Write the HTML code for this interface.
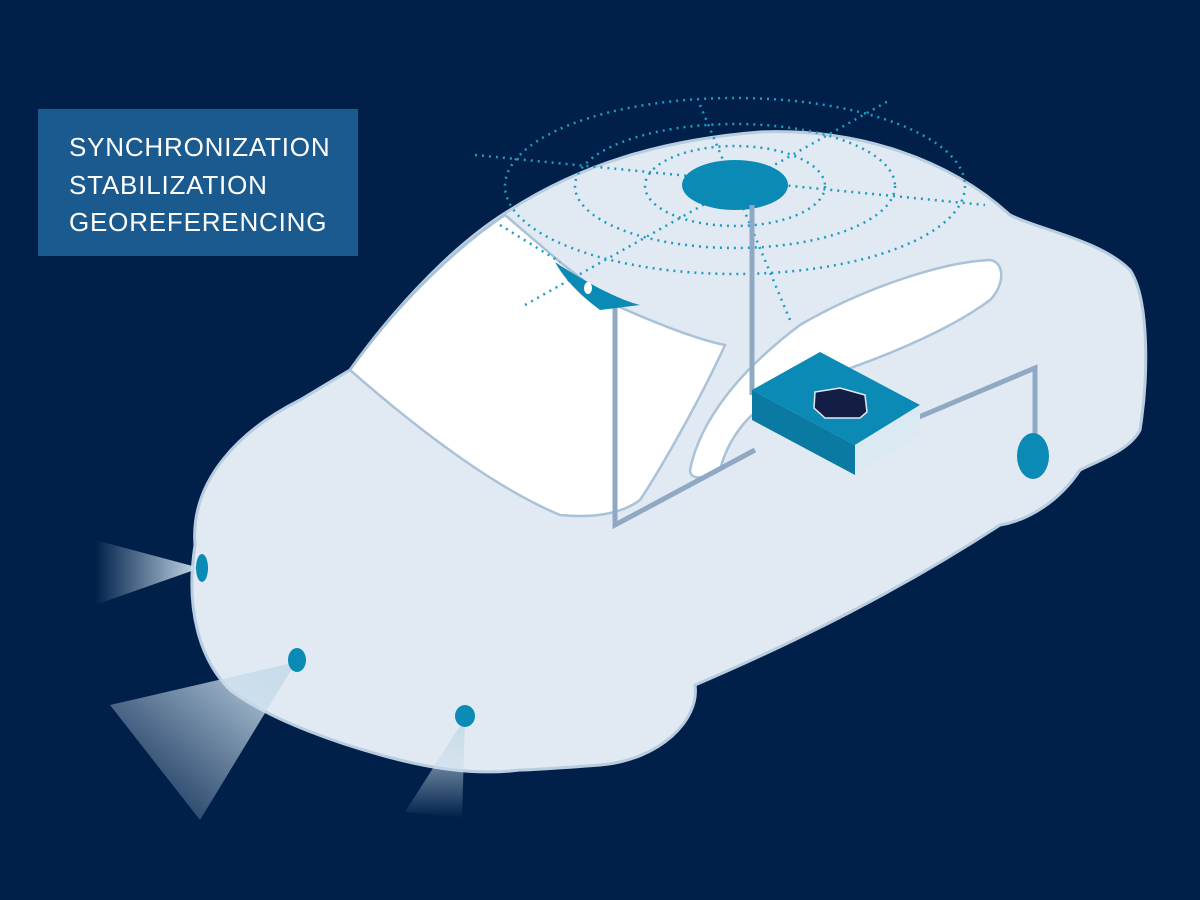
<!DOCTYPE html>
<html><head><style>
html,body{margin:0;padding:0;background:#00204a;}
svg{display:block}
</style></head><body>
<svg width="1200" height="900" viewBox="0 0 1200 900" xmlns="http://www.w3.org/2000/svg">
<defs>
<linearGradient id="b1" x1="1" y1="0" x2="0" y2="0"><stop offset="0" stop-color="#c7dbea"/><stop offset="1" stop-color="#c7dbea" stop-opacity="0"/></linearGradient>
<linearGradient id="b2" x1="1" y1="0" x2="0" y2="1"><stop offset="0" stop-color="#c7dbea"/><stop offset="1" stop-color="#c7dbea" stop-opacity="0"/></linearGradient>
<linearGradient id="b3" x1="0" y1="0" x2="0" y2="1"><stop offset="0" stop-color="#c7dbea"/><stop offset="1" stop-color="#c7dbea" stop-opacity="0"/></linearGradient>
</defs>
<rect width="1200" height="900" fill="#00204a"/>
<rect x="38" y="109" width="320" height="147" fill="#1b5a8e"/>
<g font-family="Liberation Sans, sans-serif" font-size="26" fill="#fff" letter-spacing="0.8">
<text x="69" y="156">SYNCHRONIZATION</text>
<text x="69" y="194">STABILIZATION</text>
<text x="69" y="231">GEOREFERENCING</text>
</g>
<!-- body -->
<path d="M195,545 C190,480 240,430 300,400 L350,370 C400,300 460,240 510,210 C580,165 660,140 760,132 C860,128 950,160 1010,215 C1040,230 1100,240 1130,270 C1150,300 1148,380 1140,430 C1130,450 1100,460 1080,470 C1060,500 1030,520 1000,525 C900,590 800,640 695,685 C700,720 660,760 600,765 C560,768 530,770 520,770 C480,775 440,770 400,760 C340,745 270,720 230,690 C200,660 185,610 195,545 Z" fill="#e1eaf2" stroke="#b8cde0" stroke-width="3"/>
<!-- beams -->
<polygon points="200,568 95,540 95,605" fill="url(#b1)"/>
<polygon points="296,662 110,705 200,820" fill="url(#b2)"/>
<polygon points="465,718 405,812 462,818" fill="url(#b3)"/>
<!-- windshield -->
<path d="M350,370 C400,300 460,245 505,215 L560,262 L615,305 C660,325 700,340 725,345 C700,400 660,470 640,500 C620,515 590,518 560,515 C500,490 430,440 350,370 Z" fill="#fff" stroke="#a9c2d8" stroke-width="2.5"/>
<!-- side window -->
<path d="M690,470 C700,420 740,370 800,325 C860,290 940,262 990,260 C1005,262 1005,285 990,300 C950,330 880,360 800,385 C760,400 730,430 720,470 C705,480 690,480 690,470 Z" fill="#fff" stroke="#a9c2d8" stroke-width="2.5"/>
<!-- dotted rings -->
<g fill="none" stroke="#1f9bc0" stroke-width="2.5" stroke-dasharray="2,5">
<ellipse cx="735" cy="186" rx="90" ry="40"/>
<ellipse cx="735" cy="186" rx="230" ry="88"/>
<ellipse cx="735" cy="186" rx="160" ry="62"/>
<line x1="475" y1="155" x2="985" y2="205"/>
<line x1="700" y1="105" x2="790" y2="320"/>
<line x1="525" y1="305" x2="890" y2="100"/>
<line x1="500" y1="225" x2="560" y2="262"/>
</g>
<!-- antenna -->
<ellipse cx="735" cy="185" rx="53" ry="25" fill="#0a8ab4"/>
<!-- cables -->
<g fill="none" stroke="#8fa9c4" stroke-width="5">
<polyline points="752,205 752,395"/>
<polyline points="615,305 615,525 755,450"/>
<polyline points="900,425 1035,368 1035,445"/>
</g>
<!-- camera -->
<path d="M555,262 C590,285 620,300 640,305 L600,310 C580,295 565,280 555,262 Z" fill="#0a8ab4"/>
<ellipse cx="588" cy="288" rx="4" ry="6" fill="#fff"/>
<!-- box -->
<polygon points="752,390 820,352 920,405 855,445" fill="#0a8ab4"/>
<polygon points="752,390 855,445 855,475 752,420" fill="#0a7aa3"/>
<polygon points="855,445 920,405 920,435 855,475" fill="#dbe9f3"/>
<path d="M815,392 L840,388 L865,395 L867,412 L860,418 L825,418 L814,408 Z" fill="#141e45" stroke="#e1eaf2" stroke-width="1.5"/>
<!-- sensors -->
<ellipse cx="1033" cy="456" rx="16" ry="23" fill="#0a8ab4"/>
<ellipse cx="202" cy="568" rx="6" ry="14" fill="#0a8ab4"/>
<ellipse cx="297" cy="660" rx="9" ry="12" fill="#0a8ab4"/>
<ellipse cx="465" cy="716" rx="10" ry="11" fill="#0a8ab4"/>
</svg>
</body></html>
